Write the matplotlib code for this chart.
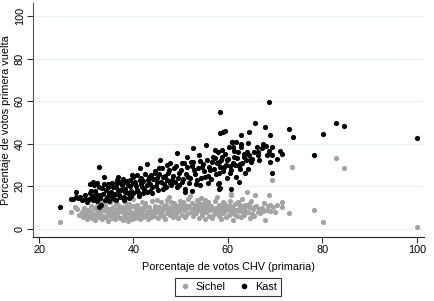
import matplotlib
matplotlib.use("Agg")
import matplotlib.pyplot as plt
from matplotlib.lines import Line2D

plt.rcParams['font.family'] = ['Liberation Sans', 'DejaVu Sans']

# Kast: porcentaje primera vuelta vs porcentaje CHV primaria
kast_x = [24.5, 26.7, 27.2, 27.8, 27.8, 28.2, 28.7, 29.0, 29.8, 29.8,
          30.2, 30.5, 30.7, 30.8, 31.0, 31.2, 31.4, 31.5, 31.7, 31.8,
          31.9, 32.0, 32.2, 32.3, 32.6, 32.6, 32.8, 32.9, 33.0, 33.2,
          33.3, 33.5, 33.7, 33.8, 34.0, 34.2, 34.3, 34.5, 34.7, 34.8,
          34.9, 35.0, 35.2, 35.4, 35.5, 35.6, 35.8, 36.0, 36.2, 36.3,
          36.5, 36.6, 36.8, 36.8, 36.9, 37.0, 37.2, 37.4, 37.5, 37.7,
          37.8, 37.9, 38.0, 38.2, 38.3, 38.6, 38.8, 38.9, 39.0, 39.2,
          39.3, 39.4, 39.5, 39.6, 39.8, 39.9, 40.0, 40.3, 40.5, 40.7,
          40.8, 41.0, 41.2, 41.3, 41.4, 41.5, 41.6, 41.8, 42.0, 42.1,
          42.3, 42.5, 42.8, 42.8, 42.9, 43.0, 43.2, 43.4, 43.5, 43.7,
          43.9, 44.0, 44.2, 44.5, 44.6, 44.8, 44.9, 45.0, 45.2, 45.4,
          45.5, 45.6, 45.8, 46.0, 46.2, 46.3, 46.5, 46.7, 46.9, 47.0,
          47.2, 47.4, 47.5, 47.7, 47.8, 48.0, 48.1, 48.3, 48.6, 48.8,
          49.0, 49.2, 49.3, 49.4, 49.6, 49.7, 50.0, 50.2, 50.3, 50.5,
          50.6, 50.8, 51.0, 51.1, 51.3, 51.4, 51.6, 51.8, 52.0, 52.1,
          52.3, 52.4, 52.6, 52.7, 52.8, 53.0, 53.2, 53.4, 53.6, 53.8,
          54.0, 54.1, 54.3, 54.5, 54.8, 55.0, 55.2, 55.4, 55.5, 55.7,
          55.8, 56.0, 56.2, 56.4, 56.6, 56.9, 57.0, 57.2, 57.3, 57.5,
          57.6, 57.8, 57.9, 58.0, 58.0, 58.1, 58.2, 58.3, 58.3, 58.3,
          58.4, 58.6, 58.7, 58.8, 58.9, 59.0, 59.2, 59.3, 59.4, 59.6,
          59.8, 59.9, 60.1, 60.3, 60.4, 60.5, 60.6, 60.7, 60.8, 60.9,
          61.0, 61.1, 61.2, 61.3, 61.5, 61.6, 61.8, 62.0, 62.2, 62.3,
          62.4, 62.5, 62.6, 62.7, 62.8, 62.8, 63.0, 63.3, 63.5, 63.6,
          63.8, 64.0, 64.2, 64.3, 64.4, 64.5, 64.6, 64.8, 65.0, 65.5,
          65.8, 66.1, 66.3, 66.3, 66.5, 67.2, 67.5, 67.9, 68.0, 68.2,
          68.7, 68.7, 68.8, 68.9, 69.3, 69.3, 69.4, 70.3, 71.1, 71.4,
          73.0, 73.7, 78.3, 80.2, 82.9, 84.5, 100.0]
kast_y = [10.5, 13.9, 14.0, 17.4, 15.2, 14.5, 15.2, 13.5, 13.9, 16.0,
          12.8, 14.0, 16.7, 21.1, 18.0, 15.5, 22.0, 13.6, 20.7, 17.8,
          15.2, 16.5, 21.8, 13.0, 29.1, 10.5, 19.5, 16.0, 14.5, 11.5,
          19.1, 16.5, 21.0, 24.6, 13.6, 18.3, 15.0, 19.5, 21.1, 13.0,
          17.1, 16.0, 17.5, 21.5, 15.2, 19.9, 14.0, 16.5, 13.5, 19.5,
          21.4, 23.0, 18.3, 24.5, 22.0, 16.0, 14.9, 18.5, 20.7, 21.5,
          23.5, 13.6, 15.0, 19.0, 17.5, 22.5, 17.0, 20.7, 14.5, 20.0,
          23.0, 15.5, 18.0, 25.4, 16.7, 21.5, 24.5, 22.2, 20.0, 18.3,
          25.5, 17.5, 15.5, 28.5, 23.0, 21.0, 24.0, 19.9, 22.5, 16.7,
          19.0, 26.0, 30.5, 20.7, 17.5, 23.0, 24.6, 21.0, 18.0, 25.5,
          16.7, 19.5, 23.5, 27.0, 26.1, 20.0, 22.2, 24.0, 18.5, 26.0,
          28.5, 32.4, 22.0, 28.5, 24.6, 18.6, 21.0, 25.0, 19.5, 30.0,
          23.0, 26.1, 27.5, 31.0, 21.4, 20.5, 23.0, 25.0, 28.5, 22.0,
          29.5, 35.8, 19.9, 24.0, 20.5, 26.1, 27.5, 22.2, 31.0, 23.5,
          30.8, 19.0, 17.5, 26.0, 34.0, 29.0, 24.6, 21.5, 24.0, 31.6,
          29.5, 18.0, 31.5, 37.9, 27.7, 26.0, 21.0, 23.0, 28.5, 34.7,
          32.0, 20.7, 24.0, 29.3, 30.5, 27.0, 24.6, 39.4, 32.5, 21.8,
          25.0, 29.0, 27.7, 23.5, 31.5, 34.0, 28.0, 33.5, 37.1, 26.0,
          30.8, 36.0, 21.1, 26.1, 21.4, 31.5, 18.9, 54.9, 44.9, 19.1,
          29.0, 32.5, 34.0, 37.0, 45.7, 27.0, 29.3, 35.0, 46.2, 30.0,
          32.4, 24.0, 33.0, 38.7, 29.5, 26.1, 18.6, 27.5, 41.0, 40.8,
          31.0, 38.6, 34.0, 36.5, 30.0, 24.5, 41.0, 33.5, 36.3, 29.5,
          21.9, 28.2, 30.5, 44.1, 38.5, 39.8, 31.0, 34.0, 35.0, 26.1,
          32.5, 36.3, 28.0, 40.2, 34.6, 45.5, 32.2, 31.6, 33.0, 36.0,
          49.6, 38.7, 34.7, 36.2, 32.5, 38.0, 39.9, 48.0, 39.1, 34.7,
          59.6, 36.5, 31.6, 44.1, 38.7, 26.4, 34.6, 33.0, 36.6, 35.1,
          46.9, 43.3, 34.7, 44.8, 49.8, 48.5, 42.9]

# Sichel
sichel_x = [24.5, 26.7, 27.6, 28.1, 28.5, 29.0, 29.3, 29.6, 29.9, 30.2,
            30.4, 30.6, 30.9, 31.1, 31.3, 31.5, 31.7, 31.9, 32.1, 32.3,
            32.5, 32.7, 32.9, 33.1, 33.3, 33.5, 33.7, 33.9, 34.1, 34.3,
            34.5, 34.7, 34.9, 35.1, 35.3, 35.5, 35.7, 35.9, 36.1, 36.3,
            36.5, 36.7, 36.9, 37.1, 37.3, 37.5, 37.7, 37.9, 38.1, 38.3,
            38.5, 38.7, 38.9, 39.1, 39.3, 39.5, 39.7, 39.9, 40.0, 40.2,
            40.4, 40.6, 40.8, 41.0, 41.2, 41.4, 41.6, 41.8, 42.0, 42.2,
            42.4, 42.6, 42.8, 43.0, 43.2, 43.4, 43.6, 43.8, 44.0, 44.2,
            44.4, 44.6, 44.8, 45.0, 45.2, 45.4, 45.6, 45.8, 46.0, 46.2,
            46.4, 46.6, 46.8, 47.0, 47.2, 47.4, 47.6, 47.8, 48.0, 48.2,
            48.4, 48.6, 48.8, 49.0, 49.2, 49.4, 49.6, 49.8, 50.0, 50.2,
            50.4, 50.6, 50.8, 51.0, 51.2, 51.4, 51.6, 51.8, 52.0, 52.2,
            52.4, 52.6, 52.8, 53.0, 53.2, 53.4, 53.6, 53.8, 54.0, 54.2,
            54.4, 54.6, 54.8, 55.0, 55.2, 55.4, 55.6, 55.8, 56.0, 56.2,
            56.4, 56.6, 56.8, 57.0, 57.2, 57.4, 57.6, 57.8, 58.0, 58.2,
            58.4, 58.6, 58.8, 59.0, 59.2, 59.4, 59.6, 59.8, 60.0, 60.2,
            60.4, 60.6, 60.7, 60.7, 60.9, 61.1, 61.3, 61.5, 61.7, 61.9,
            62.1, 62.3, 62.5, 62.7, 62.9, 63.1, 63.3, 63.5, 63.7, 64.0,
            64.2, 64.4, 64.6, 64.8, 65.0, 65.3, 65.6, 65.8, 66.0, 66.3,
            66.8, 67.2, 67.6, 67.9, 68.2, 68.7, 68.9, 68.9, 69.3, 69.6,
            70.4, 71.4, 71.4, 73.0, 73.5, 78.3, 80.2, 82.9, 84.5, 100.0,
            30.0, 31.0, 32.0, 33.0, 34.0, 35.0, 36.0, 37.0, 38.0, 39.0,
            40.5, 41.5, 42.5, 43.5, 44.5, 45.5, 46.5, 47.5, 48.5, 49.5,
            50.5, 51.5, 52.5, 53.5, 54.5, 55.5, 56.5, 57.5, 58.5, 59.5,
            60.5, 61.5, 62.5, 63.5, 64.5, 65.5, 66.5, 67.5, 68.5, 70.0,
            36.4, 41.9, 50.1, 55.1, 58.9, 47.9, 44.9, 38.4, 33.4, 53.9]
sichel_y = [3.4, 8.1, 10.5, 9.2, 6.8, 8.0, 5.5, 10.0, 7.2, 4.5,
            9.0, 6.0, 11.0, 8.0, 5.0, 7.0, 9.8, 4.2, 6.5, 8.5,
            12.0, 5.5, 7.5, 10.0, 4.8, 6.2, 8.8, 11.5, 5.8, 7.8,
            3.8, 9.5, 6.5, 12.5, 8.0, 5.0, 10.2, 7.0, 4.5, 9.0,
            6.0, 11.2, 7.8, 5.2, 8.5, 10.5, 4.2, 6.8, 9.2, 12.8,
            5.8, 7.5, 3.6, 9.8, 6.2, 8.2, 4.8, 10.8, 14.0, 7.0,
            5.2, 9.0, 11.5, 6.5, 8.5, 4.5, 10.0, 7.2, 5.8, 9.5,
            12.0, 6.8, 8.0, 4.8, 10.5, 7.5, 9.0, 5.5, 13.3, 8.2,
            6.2, 11.0, 7.8, 9.5, 5.0, 10.2, 7.0, 12.5, 8.5, 6.0,
            9.8, 4.5, 11.5, 7.5, 13.5, 8.8, 15.2, 6.5, 10.5, 8.0,
            5.5, 12.0, 9.2, 7.0, 11.0, 5.0, 8.5, 13.0, 10.0, 6.8,
            12.5, 8.8, 5.8, 11.5, 9.5, 7.2, 14.0, 10.2, 15.5, 8.0,
            12.0, 6.0, 9.8, 11.2, 7.5, 13.5, 9.0, 5.0, 10.8, 14.5,
            8.2, 6.5, 11.8, 9.2, 4.8, 7.8, 10.5, 12.8, 6.0, 8.8,
            11.0, 5.2, 9.5, 7.2, 13.0, 10.0, 14.8, 8.0, 6.2, 11.5,
            9.0, 4.5, 10.5, 7.5, 12.2, 8.5, 5.8, 11.0, 9.5, 6.8,
            13.0, 8.0, 16.5, 15.8, 10.2, 4.2, 7.2, 11.8, 9.0, 6.0,
            12.5, 8.5, 10.0, 5.5, 14.0, 7.8, 9.8, 6.5, 11.5, 17.3,
            8.2, 10.5, 5.0, 13.0, 7.0, 9.2, 6.0, 15.8, 11.0, 8.0,
            7.4, 10.0, 12.0, 4.2, 9.0, 15.8, 11.3, 8.6, 23.2, 10.5,
            11.3, 12.8, 10.2, 7.7, 29.3, 8.9, 3.4, 33.3, 28.5, 0.9,
            8.5, 6.5, 10.5, 9.0, 10.5, 9.2, 8.2, 9.8, 8.0, 11.8,
            10.0, 8.0, 10.8, 8.5, 9.2, 8.2, 10.8, 9.8, 10.2, 9.8,
            9.5, 10.8, 9.2, 10.2, 9.5, 11.5, 9.8, 8.8, 10.0, 9.8,
            10.8, 8.8, 11.2, 9.0, 11.8, 10.2, 9.5, 8.5, 10.8, 8.2,
            12.0, 12.5, 11.8, 13.5, 12.8, 12.8, 13.8, 10.5, 12.6, 12.4]

xticks = [20, 40, 60, 80, 100]
yticks = [0, 20, 40, 60, 80, 100]

fig = plt.figure(figsize=(4.35, 3.01), dpi=100)
ax = fig.add_axes([0.0759, 0.2126, 0.8988, 0.7774])

ax.scatter(sichel_x, sichel_y, s=14, color='#a3a3a3', linewidths=0, zorder=3)
ax.scatter(kast_x, kast_y, s=14, color='black', linewidths=0, zorder=4)

ax.set_xlim(18.73, 101.5)
ax.set_ylim(-3.76, 106.1)
ax.set_xticks(xticks)
ax.set_yticks(yticks)
ax.tick_params(labelsize=7.8, length=4, width=0.8, color='#333333', pad=2)
for lab in ax.get_yticklabels():
    lab.set_rotation(90)
    lab.set_va('center')
ax.grid(axis='y', color='#eaf2f3', linewidth=0.8, zorder=0)
ax.set_axisbelow(True)
for s in ['top', 'right']:
    ax.spines[s].set_visible(False)
ax.spines['left'].set_color('#555555')
ax.spines['bottom'].set_color('#222222')

ax.set_xlabel('Porcentaje de votos CHV (primaria)', fontsize=7.8, labelpad=5)
ax.set_ylabel('Porcentaje de votos primera vuelta', fontsize=7.8, labelpad=3)

handles = [Line2D([], [], marker='o', linestyle='', markersize=3, color='#a3a3a3'),
           Line2D([], [], marker='o', linestyle='', markersize=3, color='black')]
leg = fig.legend(handles, ['Sichel', 'Kast'], loc='center', bbox_to_anchor=(0.524, 0.047),
                 ncol=2, fontsize=7.8, frameon=True, fancybox=False, handlelength=1,
                 handletextpad=0.5, columnspacing=1.2, borderpad=0.4)
leg.get_frame().set_edgecolor('black')
leg.get_frame().set_linewidth(0.8)

fig.savefig('out.png', dpi=100)
